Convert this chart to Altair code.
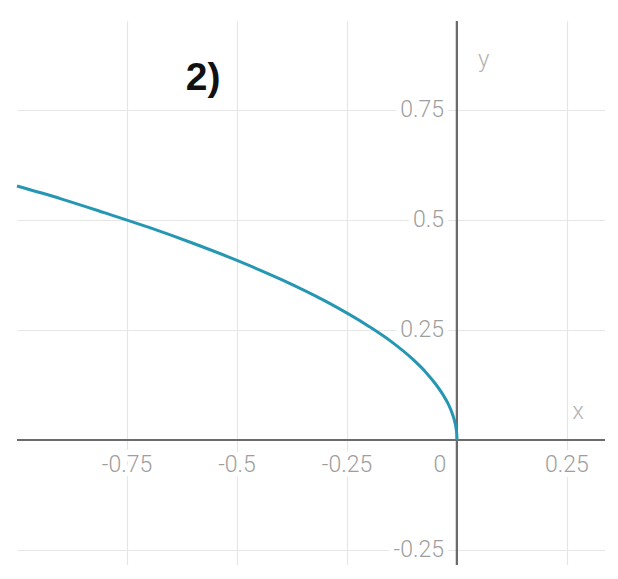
import altair as alt
import pandas as pd

# curve points
curve_x = [-1.0, -0.9, -0.8, -0.7, -0.6, -0.5, -0.4, -0.3, -0.2, -0.15, -0.1,
           -0.07, -0.05, -0.03, -0.02, -0.01, -0.005, -0.002, -0.0005, 0.0]
curve_y = [0.577, 0.548, 0.516, 0.483, 0.447, 0.408, 0.365, 0.316, 0.258, 0.224, 0.183,
           0.153, 0.129, 0.100, 0.082, 0.058, 0.041, 0.026, 0.013, 0.0]

x_ticks = [-0.75, -0.5, -0.25, 0.25]
x_tick_labels = ["-0.75", "-0.5", "-0.25", "0.25"]
y_ticks = [0.75, 0.5, 0.25, -0.25]
y_tick_labels = ["0.75", "0.5", "0.25", "-0.25"]

X_DOMAIN = [-1.0, 0.3364]
Y_DOMAIN = [-0.284, 0.952]

xs = alt.Scale(domain=X_DOMAIN, nice=False, zero=False)
ys = alt.Scale(domain=Y_DOMAIN, nice=False, zero=False)

curve_df = pd.DataFrame({"x": curve_x, "y": curve_y})
xl_df = pd.DataFrame({"x": x_ticks, "y": [0.0] * len(x_ticks), "t": x_tick_labels})
yl_df = pd.DataFrame({"x": [0.0] * len(y_ticks), "y": y_ticks, "t": y_tick_labels})
zero_df = pd.DataFrame({"x": [0.0], "y": [0.0], "t": ["0"]})
names_df = pd.DataFrame({"x": [0.275, 0.061], "y": [0.064, 0.864], "t": ["x", "y"]})
title_df = pd.DataFrame({"x": [-0.577], "y": [0.823], "t": ["2)"]})

FONT = "Roboto"
LBL = "#9e9e9e"
FS = 23
FW = 300

grid_x_axis = alt.Axis(values=x_ticks, grid=True, labels=False, ticks=False, domain=False,
                       title=None, gridColor="#e6e6e6", gridWidth=1.2)
grid_y_axis = alt.Axis(values=y_ticks, grid=True, labels=False, ticks=False, domain=False,
                       title=None, gridColor="#e6e6e6", gridWidth=1.2)

base_grid = alt.Chart(curve_df).mark_point(opacity=0).encode(
    x=alt.X("x:Q", scale=xs, axis=grid_x_axis),
    y=alt.Y("y:Q", scale=ys, axis=grid_y_axis),
)

# white halos behind tick labels (interrupt gridlines)
xl_box = alt.Chart(xl_df).mark_text(font=FONT, fontSize=FS, fontWeight=FW, fill="white",
                                   stroke="white", strokeWidth=10, strokeJoin="round",
                                   dy=25, baseline="middle").encode(
    x=alt.X("x:Q", scale=xs), y=alt.Y("y:Q", scale=ys), text="t:N")
yl_box = alt.Chart(yl_df).mark_text(font=FONT, fontSize=FS, fontWeight=FW, fill="white",
                                   stroke="white", strokeWidth=10, strokeJoin="round",
                                   align="right", baseline="middle", dx=-13).encode(
    x=alt.X("x:Q", scale=xs), y=alt.Y("y:Q", scale=ys), text="t:N")

x_axis_line = alt.Chart(curve_df).mark_rule(color="#6b6b6b", strokeWidth=2).encode(
    y=alt.datum(0.0, scale=ys))
y_axis_line = alt.Chart(curve_df).mark_rule(color="#6b6b6b", strokeWidth=2).encode(
    x=alt.datum(0.0, scale=xs))

xl = alt.Chart(xl_df).mark_text(font=FONT, fontSize=FS, fontWeight=FW, color=LBL, dy=25,
                                baseline="middle").encode(
    x=alt.X("x:Q", scale=xs), y=alt.Y("y:Q", scale=ys), text="t:N")
yl = alt.Chart(yl_df).mark_text(font=FONT, fontSize=FS, fontWeight=FW, color=LBL, align="right",
                                baseline="middle", dx=-13).encode(
    x=alt.X("x:Q", scale=xs), y=alt.Y("y:Q", scale=ys), text="t:N")
zl = alt.Chart(zero_df).mark_text(font=FONT, fontSize=FS, fontWeight=FW, color=LBL, dx=-17, dy=25,
                                  baseline="middle").encode(
    x=alt.X("x:Q", scale=xs), y=alt.Y("y:Q", scale=ys), text="t:N")
names = alt.Chart(names_df).mark_text(font=FONT, fontSize=24, fontWeight=FW, color="#b5b5b5",
                                      baseline="middle").encode(
    x=alt.X("x:Q", scale=xs), y=alt.Y("y:Q", scale=ys), text="t:N")
title = alt.Chart(title_df).mark_text(font="Liberation Sans", fontSize=39, fontWeight="bold",
                                      color="#111111", baseline="middle").encode(
    x=alt.X("x:Q", scale=xs), y=alt.Y("y:Q", scale=ys), text="t:N")

curve = alt.Chart(curve_df).mark_line(color="#2597b3", strokeWidth=3, interpolate="monotone").encode(
    x=alt.X("x:Q", scale=xs), y=alt.Y("y:Q", scale=ys), order="x:Q")

chart = alt.layer(
    base_grid, xl_box, yl_box, x_axis_line, y_axis_line, xl, yl, zl, names, title, curve
).properties(
    width=588, height=544,
    background="white",
    autosize=alt.AutoSizeParams(type="none"),
    padding={"left": 9, "top": 13, "right": 0, "bottom": 0},
).configure_view(strokeWidth=0, stroke="transparent")

chart.save("out.html", embed_options={"renderer": "svg", "actions": False})
